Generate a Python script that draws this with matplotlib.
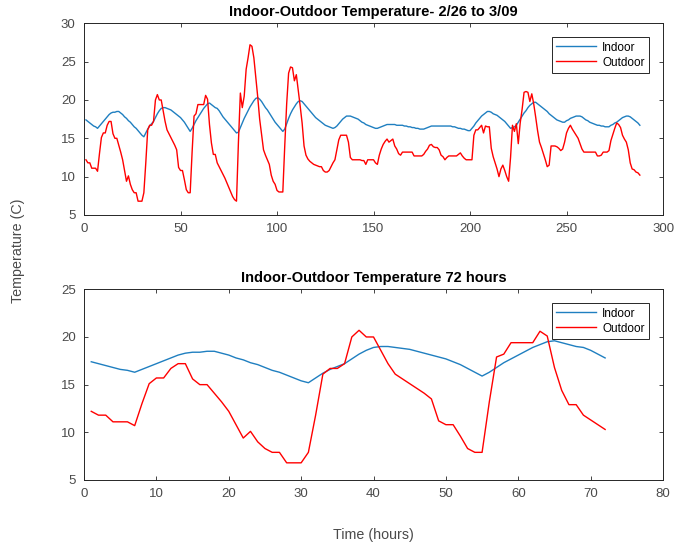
import numpy as np
import matplotlib
matplotlib.use("Agg")
import matplotlib.pyplot as plt

plt.rcParams['font.family'] = ['Liberation Sans', 'DejaVu Sans']

# hourly readings, hour 1 .. 288
indoor = [
    17.4, 17.2, 17.0, 16.8, 16.6, 16.5, 16.3, 16.6, 16.9, 17.2,
    17.5, 17.8, 18.1, 18.3, 18.4, 18.4, 18.5, 18.5, 18.3, 18.1,
    17.8, 17.6, 17.3, 17.1, 16.8, 16.5, 16.3, 16.0, 15.7, 15.4,
    15.2, 15.7, 16.2, 16.6, 16.9, 17.2, 17.7, 18.2, 18.6, 18.9,
    19.0, 19.0, 18.9, 18.8, 18.7, 18.5, 18.3, 18.1, 17.9, 17.7,
    17.4, 17.1, 16.7, 16.3, 15.9, 16.3, 16.8, 17.3, 17.7, 18.1,
    18.5, 18.9, 19.2, 19.5, 19.6, 19.4, 19.2, 19.0, 18.9, 18.6,
    18.2, 17.8, 17.5, 17.2, 16.9, 16.6, 16.3, 16.0, 15.7, 15.8,
    16.4, 17.0, 17.6, 18.1, 18.6, 19.1, 19.5, 19.9, 20.2, 20.3,
    20.1, 19.8, 19.4, 19.0, 18.7, 18.3, 17.9, 17.5, 17.1, 16.8,
    16.5, 16.2, 15.9, 16.2, 16.9, 17.6, 18.2, 18.7, 19.1, 19.5,
    19.8, 19.9, 19.8, 19.5, 19.2, 18.9, 18.6, 18.3, 18.0, 17.7,
    17.5, 17.3, 17.1, 16.9, 16.7, 16.6, 16.5, 16.4, 16.3, 16.4,
    16.6, 16.9, 17.2, 17.5, 17.7, 17.9, 17.9, 17.9, 17.8, 17.7,
    17.6, 17.5, 17.3, 17.1, 17.0, 16.8, 16.7, 16.6, 16.5, 16.4,
    16.3, 16.3, 16.4, 16.5, 16.6, 16.7, 16.8, 16.8, 16.8, 16.8,
    16.8, 16.7, 16.7, 16.7, 16.7, 16.6, 16.6, 16.5, 16.5, 16.4,
    16.4, 16.3, 16.3, 16.2, 16.2, 16.2, 16.3, 16.4, 16.5, 16.6,
    16.6, 16.6, 16.6, 16.6, 16.6, 16.6, 16.6, 16.6, 16.6, 16.6,
    16.5, 16.5, 16.4, 16.3, 16.3, 16.2, 16.2, 16.1, 16.0, 16.0,
    16.3, 16.6, 17.0, 17.3, 17.6, 17.9, 18.1, 18.3, 18.5, 18.5,
    18.4, 18.2, 18.1, 18.0, 17.8, 17.6, 17.4, 17.2, 16.9, 16.6,
    16.3, 16.4, 16.5, 16.7, 17.1, 17.5, 17.9, 18.3, 18.6, 19.0,
    19.3, 19.5, 19.7, 19.7, 19.5, 19.3, 19.1, 18.9, 18.7, 18.5,
    18.2, 18.0, 17.8, 17.6, 17.4, 17.3, 17.2, 17.1, 17.1, 17.3,
    17.4, 17.6, 17.7, 17.8, 17.9, 17.9, 17.9, 17.8, 17.6, 17.4,
    17.3, 17.1, 17.0, 16.9, 16.8, 16.7, 16.7, 16.6, 16.6, 16.5,
    16.5, 16.5, 16.7, 16.8, 17.0, 17.1, 17.3, 17.5, 17.7, 17.8,
    17.9, 17.9, 17.8, 17.6, 17.4, 17.2, 17.0, 16.7,
]

outdoor = [
    12.2, 11.8, 11.8, 11.1, 11.1, 11.1, 10.7, 13.0, 15.1, 15.7,
    15.7, 16.7, 17.2, 17.2, 15.6, 15.0, 15.0, 14.1, 13.2, 12.2,
    10.8, 9.4, 10.1, 9.0, 8.3, 7.9, 7.9, 6.8, 6.8, 6.8,
    7.9, 11.8, 16.1, 16.7, 16.7, 17.2, 20.0, 20.7, 20.0, 20.0,
    18.6, 17.2, 16.1, 15.6, 15.1, 14.6, 14.1, 13.5, 11.2, 10.8,
    10.8, 9.6, 8.3, 7.9, 7.9, 13.2, 17.9, 18.2, 19.4, 19.4,
    19.4, 19.4, 20.6, 20.1, 16.8, 14.4, 12.9, 12.9, 11.8, 11.3,
    10.8, 10.3, 9.8, 9.2, 8.6, 8.0, 7.4, 7.0, 6.8, 14.5,
    20.9, 19.0, 20.5, 24.0, 25.5, 27.2, 27.0, 25.5, 23.0, 20.4,
    17.5, 15.5, 13.5, 12.8, 12.2, 11.6, 10.2, 9.4, 9.0, 8.2,
    8.0, 8.0, 8.0, 14.0, 19.5, 23.5, 24.3, 24.2, 22.5, 23.3,
    21.3, 19.2, 17.0, 14.0, 12.8, 12.3, 12.0, 11.8, 11.6, 11.5,
    11.4, 11.3, 11.3, 10.8, 10.6, 10.6, 10.8, 11.3, 11.8, 12.2,
    13.5, 14.8, 15.4, 15.4, 15.4, 15.4, 14.5, 12.5, 12.2, 12.2,
    12.2, 12.2, 12.2, 12.1, 12.1, 11.6, 12.2, 12.2, 12.2, 12.2,
    11.8, 11.6, 12.8, 13.6, 14.2, 14.6, 14.9, 14.5, 14.7, 14.9,
    14.0, 13.6, 13.0, 12.8, 13.2, 13.2, 13.2, 13.2, 13.2, 13.2,
    12.7, 12.7, 12.7, 12.7, 12.7, 12.9, 13.3, 13.6, 14.1, 14.2,
    13.9, 13.8, 13.8, 13.5, 12.8, 12.6, 12.2, 12.5, 12.7, 12.7,
    12.7, 12.7, 12.7, 12.9, 13.1, 12.7, 12.4, 12.2, 12.2, 12.2,
    12.2, 15.4, 16.1, 16.1, 16.4, 16.7, 15.7, 16.6, 16.5, 16.5,
    13.7, 12.6, 11.8, 11.0, 10.0, 11.0, 11.5, 10.8, 10.0, 9.4,
    12.5, 16.7, 15.9, 16.9, 14.3, 17.0, 18.8, 21.0, 21.1, 21.0,
    19.8, 20.8, 19.5, 17.8, 16.0, 14.5, 13.8, 13.0, 12.2, 11.3,
    11.5, 14.0, 14.0, 14.0, 13.9, 13.7, 13.4, 13.6, 14.5, 15.7,
    16.3, 16.7, 16.2, 15.8, 15.4, 15.0, 14.3, 13.6, 13.2, 13.2,
    13.2, 13.2, 13.2, 13.2, 13.2, 12.7, 12.7, 12.8, 13.2, 13.2,
    13.2, 13.4, 14.7, 15.5, 16.3, 17.0, 16.8, 16.4, 15.4, 14.9,
    14.5, 13.5, 11.8, 11.0, 10.9, 10.6, 10.5, 10.2,
]

zoom_hours = 72
labels = ['Indoor', 'Outdoor']
title_top = 'Indoor-Outdoor Temperature- 2/26 to 3/09'
title_bottom = 'Indoor-Outdoor Temperature 72 hours'

blue = '#1f7fc0'
red = '#FF0000'
axis_col = '#262626'
label_col = '#4a4a4a'

hours_in = np.arange(1, len(indoor) + 1)
hours_out = np.arange(1, len(outdoor) + 1)

fig = plt.figure(figsize=(6.76, 5.48), dpi=100)
ax1 = fig.add_axes([0.1243, 0.6077, 0.8565, 0.3498])
ax2 = fig.add_axes([0.1243, 0.1241, 0.8565, 0.348])


def style(ax):
    ax.tick_params(direction='in', top=True, right=True, length=3,
                   width=0.6, labelsize=9.5, colors=axis_col,
                   labelcolor=label_col, pad=6)
    for s in ax.spines.values():
        s.set_color(axis_col)
        s.set_linewidth(0.7)
    leg = ax.legend(loc='upper right', fontsize=8.5, fancybox=False,
                    edgecolor=axis_col, framealpha=1, borderpad=0.35,
                    handlelength=3.4, labelspacing=0.25, borderaxespad=1.2,
                    handletextpad=0.5)
    leg.get_frame().set_linewidth(0.7)


ax1.plot(hours_in, indoor, color=blue, lw=1.0, label=labels[0])
ax1.plot(hours_out, outdoor, color=red, lw=1.0, label=labels[1])
ax1.set_xlim(0, 300)
ax1.set_ylim(5, 30)
ax1.set_xticks(np.arange(0, 301, 50))
ax1.set_yticks(np.arange(5, 31, 5))
ax1.set_title(title_top, fontsize=10.5, fontweight='bold', pad=5)
style(ax1)

ax2.plot(hours_in[:zoom_hours], indoor[:zoom_hours], color=blue, lw=1.0, label=labels[0])
ax2.plot(hours_out[:zoom_hours], outdoor[:zoom_hours], color=red, lw=1.0, label=labels[1])
ax2.set_xlim(0, 80)
ax2.set_ylim(5, 25)
ax2.set_xticks(np.arange(0, 81, 10))
ax2.set_yticks(np.arange(5, 26, 5))
ax2.set_title(title_bottom, fontsize=10.5, fontweight='bold', pad=5)
style(ax2)

fig.text(0.027, 0.542, 'Temperature (C)', rotation=90, ha='center', va='center',
         fontsize=10.3, color=label_col)
fig.text(0.552, 0.024, 'Time (hours)', ha='center', va='center',
         fontsize=10.3, color=label_col)

fig.savefig('out.png', dpi=100)
